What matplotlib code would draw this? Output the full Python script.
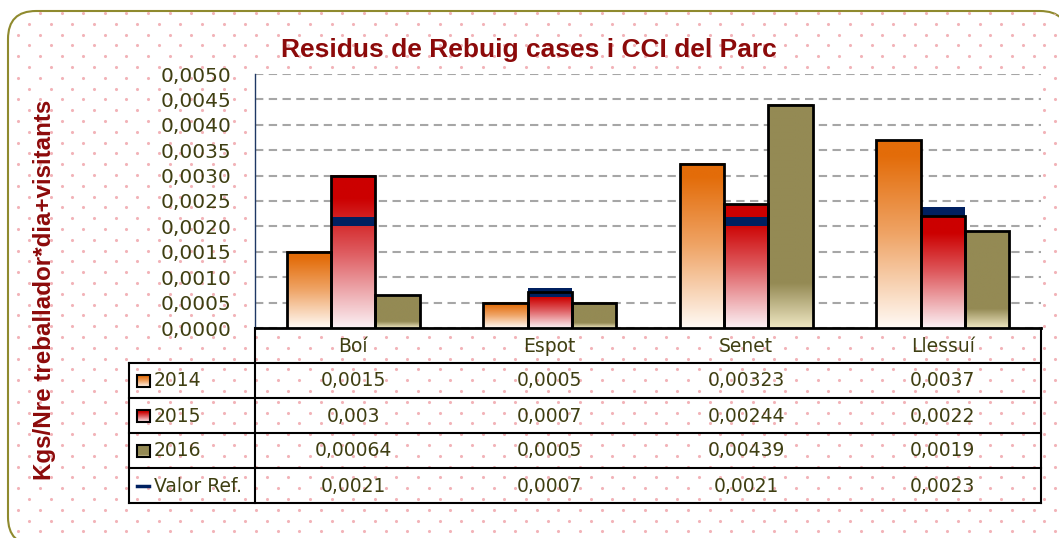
import numpy as np
import matplotlib.pyplot as plt
from matplotlib.patches import FancyBboxPatch
from matplotlib.colors import LinearSegmentedColormap
from matplotlib.transforms import blended_transform_factory

llocs = ['Boí', 'Espot', 'Senet', 'Llessuí']
anys = ['2014', '2015', '2016']
v2014 = [0.0015, 0.0005, 0.00323, 0.0037]
v2015 = [0.003, 0.0007, 0.00244, 0.0022]
v2016 = [0.00064, 0.0005, 0.00439, 0.0019]
valor_ref = [0.0021, 0.0007, 0.0021, 0.0023]
yticks = np.arange(0, 0.00501, 0.0005)

W, H = 1059, 538
text_col = '#3F3F12'
vermell = '#8C0A0A'
blau = '#002060'

def degradat(stops, n=256):
    cmap = LinearSegmentedColormap.from_list('g', stops)
    return cmap(np.linspace(0, 1, n))[:, None, :3]

# top -> bottom colour ramps for each series
grad = {
    '2014': degradat([(0, '#E36C09'), (0.08, '#E36C09'), (0.5, '#EFA466'), (1, '#FFFAF5')]),
    '2015': degradat([(0, '#CC0000'), (0.15, '#CC0000'), (0.5, '#DE5A5E'), (1, '#FBF1F5')]),
    '2016': degradat([(0, '#948A54'), (0.8, '#948A54'), (1, '#EEE6C2')]),
}

fig = plt.figure(figsize=(W / 100, H / 100), dpi=100)

# background: dotted pattern inside a rounded frame (pixel coords)
bg = fig.add_axes([0, 0, 1, 1], zorder=0)
bg.set_xlim(0, W)
bg.set_ylim(H, 0)
bg.axis('off')
marc = FancyBboxPatch((8, 11), 1060, 534, boxstyle='round,pad=0,rounding_size=28',
                      facecolor='white', edgecolor='#8F8A2E', lw=1.5, clip_on=False, zorder=0)
bg.add_patch(marc)
px, py = [], []
for j, y in enumerate(np.arange(13, H + 10, 10.8)):
    x0 = 18.4 + (10.8 if j % 2 else 0)
    xs = np.arange(x0, W + 10, 21.6)
    px.extend(xs)
    py.extend([y] * len(xs))
punts = bg.scatter(px, py, s=5, color='#F2B3B8', lw=0, zorder=1)
punts.set_clip_path(marc)

ax = fig.add_axes([255 / W, 210 / H, (1041 - 255) / W, (328 - 74) / H], zorder=1)
ax.set_facecolor('white')

x = np.arange(len(llocs))
w = 0.225
series = [v2014, v2015, v2016]
for k, (nom, vals) in enumerate(zip(anys, series)):
    xs = x + (k - 1) * w
    for xi, v in zip(xs, vals):
        ax.imshow(grad[nom], extent=(xi - w / 2, xi + w / 2, 0, v), aspect='auto',
                  interpolation='bilinear', zorder=3)
    if nom == '2015':
        ax.bar(xs, 0.00018, w, bottom=np.array(valor_ref) - 0.00009, color=blau, zorder=3.5)
    ax.bar(xs, vals, w, facecolor='none', edgecolor='black', lw=2, zorder=4)

ax.set_xlim(-0.5, len(llocs) - 0.5)
ax.set_ylim(0, 0.005)
ax.set_yticks(yticks)
ax.set_yticklabels([f'{t:.4f}'.replace('.', ',') for t in yticks], fontsize=14.5, color=text_col)
ax.tick_params(axis='y', length=0, pad=17)
ax.set_xticks([])
ax.yaxis.grid(True, color='#A6A6A6', lw=1.5, linestyle=(0, (4, 2.6)))
ax.set_axisbelow(True)
for s in ['top', 'right']:
    ax.spines[s].set_visible(False)
ax.spines['left'].set_color('#1F3864')
ax.spines['left'].set_linewidth(1)
ax.spines['bottom'].set_color('black')
ax.spines['bottom'].set_linewidth(2)

fig.text(529 / W, 1 - 50 / H, 'Residus de Rebuig cases i CCI del Parc', ha='center', va='center',
         fontsize=19, fontweight='bold', color=vermell, family='Liberation Sans')
fig.text(45 / W, 1 - 290 / H, 'Kgs/Nre treballador*dia+visitants', rotation=90, ha='center',
         va='center', fontsize=17.4, fontweight='bold', color=vermell, family='Liberation Sans')

# data table under the plot
lw_t = 1.5
for y in [363, 398, 433, 468, 503]:
    bg.plot([129, 1041], [y, y], color='black', lw=lw_t, zorder=2, solid_capstyle='projecting')
bg.plot([255, 255], [328, 503], color='black', lw=lw_t, zorder=2)
bg.plot([1041, 1041], [328, 503], color='black', lw=lw_t, zorder=2)
bg.plot([129, 129], [363, 503], color='black', lw=lw_t, zorder=2)

tr = blended_transform_factory(ax.transData, bg.transData)
for xi, nom in zip(x, llocs):
    bg.text(xi, 347, nom, transform=tr, ha='center', va='center', fontsize=13.5, color=text_col, zorder=3)

ys = [381, 416, 451, 486]
for yrow, vals in zip(ys, series + [valor_ref]):
    for xi, v in zip(x, vals):
        bg.text(xi, yrow, str(v).replace('.', ','), transform=tr, ha='center', va='center',
                fontsize=13.5, color=text_col, zorder=3)

for yrow, nom in zip(ys[:3], anys):
    bg.imshow(grad[nom], extent=(137, 150, yrow + 6, yrow - 6), aspect='auto', zorder=3)
    bg.add_patch(plt.Rectangle((137, yrow - 6), 13, 12, facecolor='none', edgecolor='black',
                               lw=1.5, zorder=4))
    bg.text(154, yrow, nom, ha='left', va='center', fontsize=13.5, color=text_col, zorder=3)
bg.plot([137, 149], [ys[3], ys[3]], color=blau, lw=2.5, zorder=3)
bg.text(154, ys[3], 'Valor Ref.', ha='left', va='center', fontsize=13.5, color=text_col, zorder=3)
bg.set_xlim(0, W)
bg.set_ylim(H, 0)

fig.savefig('out.png', dpi=100)
